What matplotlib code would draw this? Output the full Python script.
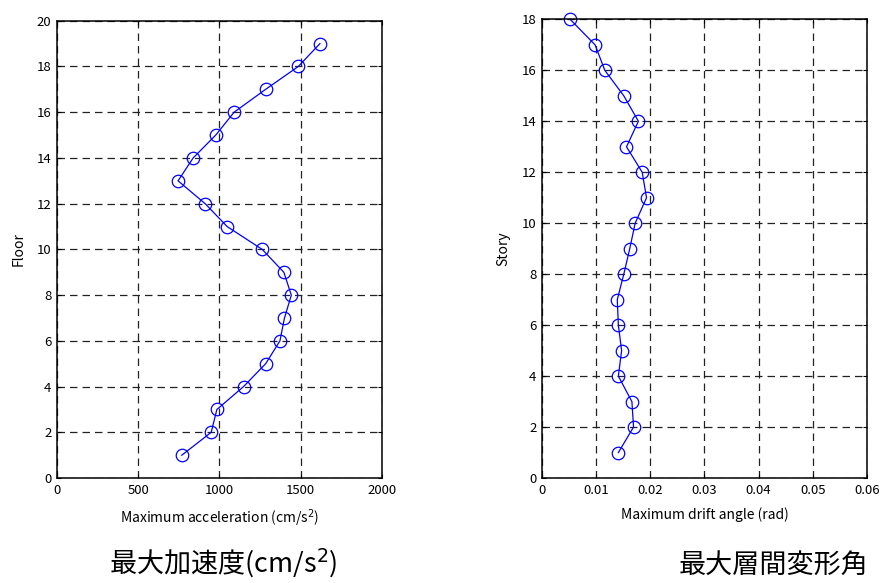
import matplotlib
matplotlib.use('Agg')
import matplotlib.pyplot as plt

plt.rcParams['font.family'] = ['Noto Sans CJK JP', 'DejaVu Sans']
plt.rcParams['mathtext.fontset'] = 'dejavusans'

# === data ===
floors = list(range(1, 20))
max_acc = [768, 949, 984, 1148, 1284, 1372, 1400, 1442, 1396, 1263,
           1047, 912, 745, 838, 977, 1090, 1284, 1485, 1618]

stories = list(range(1, 19))
max_drift = [0.0141, 0.0169, 0.0166, 0.0141, 0.0147, 0.0141, 0.0139, 0.0151, 0.0162,
             0.0172, 0.0193, 0.0185, 0.0156, 0.0178, 0.0151, 0.0116, 0.0098, 0.0052]

acc_ticks = [0, 500, 1000, 1500, 2000]
floor_ticks = list(range(0, 21, 2))
drift_ticks = [0, 0.01, 0.02, 0.03, 0.04, 0.05, 0.06]
drift_labels = ['0', '0.01', '0.02', '0.03', '0.04', '0.05', '0.06']
story_ticks = list(range(0, 19, 2))

fig = plt.figure(figsize=(8.82, 5.83), dpi=100)
ax1 = fig.add_axes([0.0646, 0.180, 0.3685, 0.7844])
ax2 = fig.add_axes([0.6145, 0.180, 0.3685, 0.7868])


def style(ax):
    ax.grid(True, color='#222222', linestyle=(0, (6, 4)), linewidth=0.9)
    ax.tick_params(direction='in', top=True, right=True, length=3,
                   labelsize=9.5, pad=4)
    for s in ax.spines.values():
        s.set_linewidth(1.1)


ax1.plot(max_acc, floors, color='#0000ff', linewidth=0.9, marker='o',
         markersize=9, markerfacecolor='none', markeredgecolor='#0000ff',
         markeredgewidth=0.9, clip_on=False)
ax1.set_xlim(0, 2000)
ax1.set_ylim(0, 20)
ax1.set_xticks(acc_ticks)
ax1.set_yticks(floor_ticks)
ax1.set_xlabel(r'Maximum acceleration (cm/s$^2$)', fontsize=10, labelpad=8)
ax1.set_ylabel('Floor', fontsize=10, labelpad=8)
style(ax1)

ax2.plot(max_drift, stories, color='#0000ff', linewidth=0.9, marker='o',
         markersize=9, markerfacecolor='none', markeredgecolor='#0000ff',
         markeredgewidth=0.9, clip_on=False)
ax2.set_xlim(0, 0.06)
ax2.set_ylim(0, 18)
ax2.set_xticks(drift_ticks)
ax2.set_xticklabels(drift_labels)
ax2.set_yticks(story_ticks)
ax2.set_xlabel('Maximum drift angle (rad)', fontsize=10, labelpad=8)
ax2.set_ylabel('Story', fontsize=10, labelpad=8)
style(ax2)

fig.text(0.253, 0.017, r'最大加速度(cm/s$^2$)', fontsize=19.5, ha='center', va='baseline')
fig.text(0.877, 0.017, '最大層間変形角', fontsize=19.5, ha='center', va='baseline')

fig.savefig('out.png', dpi=100)
